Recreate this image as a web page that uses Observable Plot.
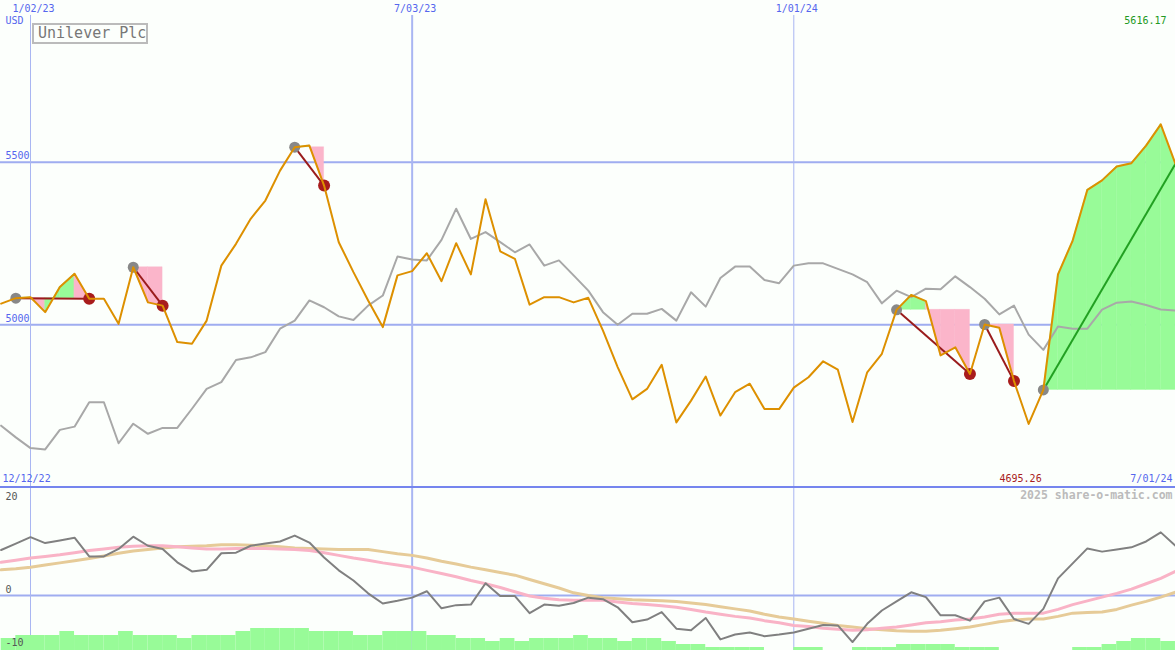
<!DOCTYPE html>
<html><head><meta charset="utf-8">
<script src="https://cdn.jsdelivr.net/npm/d3@7"></script>
<script src="https://cdn.jsdelivr.net/npm/@observablehq/plot@0.6"></script>
<style>
body{margin:0;background:#fcfffc;}
#wrap{position:relative;width:1175px;height:650px;overflow:hidden;background:#fcfffc;font-family:"DejaVu Sans Mono",monospace;}
#sep{height:2px;background:#7585ee;}
#title{position:absolute;left:32px;top:23px;width:108px;height:17px;border:2px solid #bbbbbb;color:#777777;font:15px "DejaVu Sans Mono",monospace;line-height:17px;padding-left:4px;white-space:nowrap;}
#bars{position:absolute;left:0;top:628px;}
#labels{position:absolute;left:0;top:488px;}
svg{display:block}
</style></head><body>
<div id="wrap"><div id="main"></div><div id="sep"></div><div id="lower"></div><div id="bars"></div><div id="labels"></div><div id="title">Unilever Plc</div></div>
<script>
// ---- data (weekly, Mondays 2022-12-19 .. 2024-07-01) ----
const firstWeek = "2022-12-19", lastWeek = "2024-07-01";
const price = [5065,5082,5085,5039,5116,5157,5080,5080,5003,5177,
 5069,5059,4947,4942,5013,5182,5249,5326,5382,5474,
 5546,5551,5428,5254,5162,5075,4993,5152,5165,5220,
 5134,5251,5155,5386,5226,5203,5062,5085,5085,5069,
 5083,4982,4870,4771,4803,4877,4700,4767,4841,4721,
 4793,4819,4741,4741,4807,4839,4888,4862,4701,4854,
 4911,5046,5092,5073,4906,4931,4849,5001,4991,4827,
 4695.26,4800,5155,5259,5415,5444,5487,5497,5551,5616.17,
 5495];
const compare = [4690,4654,4621,4617,4677,4687,4762,4762,4636,4696,
 4665,4683,4683,4742,4803,4824,4892,4900,4916,4988,
 5013,5075,5054,5026,5015,5059,5090,5210,5201,5198,
 5261,5357,5264,5285,5254,5223,5247,5182,5198,5152,
 5105,5039,5000,5034,5034,5049,5013,5100,5056,5144,
 5179,5179,5138,5128,5182,5189,5189,5172,5155,5131,
 5066,5105,5085,5111,5109,5149,5116,5080,5032,5059,
 4970,4923,4995,4988,4988,5047,5068,5072,5061,5047,
 5044];
const momentum = [8.5,9.7,10.9,9.8,10.3,10.8,7.3,7.3,8.7,11.0,
 9.3,8.7,6.2,4.5,4.8,7.9,8.0,9.3,9.7,10.1,
 11.2,9.9,7.1,4.7,2.8,0.4,-1.5,-1.0,-0.4,0.8,
 -2.4,-1.8,-1.7,2.3,-0.1,-0.1,-3.3,-1.7,-1.9,-1.4,
 -0.4,-0.7,-2.2,-5.0,-4.5,-3.1,-6.2,-6.5,-4.2,-8.2,
 -7.3,-6.9,-7.6,-7.3,-6.9,-6.2,-5.5,-5.6,-8.7,-5.3,
 -2.8,-1.1,0.6,-0.3,-3.7,-3.7,-4.7,-1.1,-0.4,-4.4,
 -5.3,-2.5,3.2,6.0,8.8,8.2,8.6,9.0,10.1,11.8,
 9.3];
const avgFast = [6.2,6.6,7.0,7.3,7.6,8.0,8.4,8.7,9.0,9.2,
 9.3,9.3,9.1,8.9,8.7,8.7,8.8,8.8,8.8,8.7,
 8.6,8.4,8.0,7.5,7.0,6.6,6.1,5.7,5.3,4.7,
 4.1,3.5,2.8,2.2,1.5,0.7,-0.1,-0.5,-0.8,-0.9,
 -0.9,-0.9,-1.2,-1.5,-1.7,-1.9,-2.2,-2.6,-3.1,-3.5,
 -3.9,-4.2,-4.7,-5.1,-5.6,-5.8,-6.1,-6.3,-6.5,-6.4,
 -6.1,-5.9,-5.5,-5.1,-4.9,-4.6,-4.4,-4.0,-3.5,-3.3,
 -3.3,-3.3,-2.6,-1.7,-1.0,-0.3,0.4,1.2,2.2,3.2,
 4.5];
const avgSlow = [4.8,5.0,5.3,5.7,6.1,6.5,6.9,7.4,7.9,8.3,
 8.6,8.9,9.1,9.2,9.3,9.5,9.5,9.4,9.3,9.1,
 8.9,8.8,8.7,8.6,8.6,8.6,8.2,7.8,7.5,7.0,
 6.4,5.9,5.3,4.8,4.3,3.8,3.0,2.2,1.4,0.5,
 0.0,-0.4,-0.6,-0.8,-0.9,-1.0,-1.1,-1.4,-1.7,-2.1,
 -2.5,-2.9,-3.5,-4.0,-4.4,-4.8,-5.2,-5.6,-5.9,-6.2,
 -6.4,-6.6,-6.7,-6.7,-6.5,-6.2,-5.9,-5.4,-4.9,-4.6,
 -4.4,-4.4,-3.9,-3.3,-3.2,-3.1,-2.6,-1.8,-1.1,-0.3,
 0.6];
const volume = [12,15,15,15,19,15,15,15,19,15,
 15,15,12,15,15,15,19,22,22,22,
 22,19,19,19,15,15,19,19,19,15,
 15,12,12,9,12,9,12,12,12,15,
 12,12,9,12,12,9,6,6,3,3,
 3,3,0,0,3,3,0,0,3,3,
 3,6,6,6,6,3,3,3,0,0,
 0,0,0,3,3,6,9,12,12,9,
 9];
// trades: week index of entry and exit (null = still open)
const trades = [{entry:1,exit:6},{entry:9,exit:11},{entry:20,exit:22},{entry:61,exit:66},{entry:67,exit:69},{entry:71,exit:null}];
const dateTicks = ["2023-01-02","2023-07-03","2024-01-01"];
const dateLabels = ["1/02/23","7/03/23","1/01/24"];
const priceTicks = [5500,5000];
const lowerTicks = [20,0,-10];

// ---- build ----
const weeks = d3.utcMonday.range(new Date(firstWeek), d3.utcDay.offset(new Date(lastWeek),1));
const rows = weeks.map((d,i)=>({d, price:price[i], compare:compare[i], momentum:momentum[i], avgFast:avgFast[i], avgSlow:avgSlow[i], volume:volume[i]}));
const tickDates = dateTicks.map(s=>new Date(s));
const last = price.length-1;
const xDomain = [new Date(Date.UTC(2022,11,18,16,34)), new Date(Date.UTC(2024,6,1,0,30))];
const lowerDomain = [-10.28,20];
const GREEN="#98fb98", PINK="#fbb5ca", BLUE="#5566ee", GRID="#9fadf0", VGRID="#a9b6f2";
const font = "DejaVu Sans Mono, monospace";

const fillRows=[];
trades.forEach((t,ti)=>{
  const end = t.exit ?? last, base = price[t.entry];
  for(let k=t.entry;k<end;k++){
    const col = price[k+1] >= base ? GREEN : PINK;
    fillRows.push({d:weeks[k],y1:base,y2:price[k],seg:ti+"-"+k,col});
    fillRows.push({d:weeks[k+1],y1:base,y2:price[k+1],seg:ti+"-"+k,col});
  }
});
const minI = d3.minIndex(price);

const main = Plot.plot({
  width:1175,height:486,margin:0,
  x:{type:"utc",domain:xDomain,axis:null},
  y:{domain:[4503,5997],axis:null},
  color:{type:"identity"},
  style:{background:"#fcfffc",fontFamily:font,fontSize:"10px",overflow:"visible"},
  marks:[
    Plot.ruleY(priceTicks,{stroke:GRID,strokeWidth:2}),
    Plot.ruleX([tickDates[0],tickDates[2]],{y1:5951,y2:4503,stroke:VGRID,strokeWidth:1}),
    Plot.ruleX([tickDates[1]],{y1:5951,y2:4503,stroke:VGRID,strokeWidth:2}),
    Plot.areaY(fillRows,{x:"d",y1:"y1",y2:"y2",z:"seg",fill:"col",stroke:"col",strokeWidth:0.4}),
    Plot.line(rows,{x:"d",y:"compare",stroke:"#a8a8a8",strokeWidth:2}),
    Plot.link(trades,{x1:t=>weeks[t.entry],y1:t=>price[t.entry],x2:t=>weeks[t.exit??last],y2:t=>price[t.exit??last],
      stroke:t=>t.exit==null?"#22a022":"#9a1c1c",strokeWidth:2}),
    Plot.dot(trades,{x:t=>weeks[t.entry],y:t=>price[t.entry],r:5.5,fill:"#888888"}),
    Plot.dot(trades.filter(t=>t.exit!=null),{x:t=>weeks[t.exit],y:t=>price[t.exit],r:6,fill:"#a81c1c"}),
    Plot.line(rows,{x:"d",y:"price",stroke:"#dd9000",strokeWidth:2}),
    Plot.text(tickDates,{x:d=>d,text:(d,i)=>dateLabels[i],frameAnchor:"top",lineAnchor:"middle",dy:8,dx:3,fill:BLUE}),
    Plot.text(["USD"],{frameAnchor:"top-left",lineAnchor:"middle",dx:5,dy:20,textAnchor:"start",fill:BLUE}),
    Plot.text([d3.max(price)],{frameAnchor:"top-right",lineAnchor:"middle",dx:-9,dy:20,textAnchor:"end",text:d=>d.toFixed(2),fill:"#229922"}),
    Plot.text(priceTicks,{y:d=>d,frameAnchor:"left",dx:5,dy:-6,textAnchor:"start",text:d=>String(d),fill:BLUE}),
    Plot.text(["12/12/22"],{frameAnchor:"bottom-left",lineAnchor:"middle",dx:2,dy:-8,textAnchor:"start",fill:BLUE}),
    Plot.text(["7/01/24"],{frameAnchor:"bottom-right",lineAnchor:"middle",dx:-3,dy:-8,textAnchor:"end",fill:BLUE}),
    Plot.text([price[minI]],{x:()=>weeks[minI],frameAnchor:"bottom",lineAnchor:"middle",dx:13,dy:-8,textAnchor:"end",text:d=>d.toFixed(2),fill:"#a82020"})
  ]
});
document.getElementById("main").append(main);

const lower = Plot.plot({
  width:1175,height:162,margin:0,
  x:{type:"utc",domain:xDomain,axis:null},
  y:{domain:lowerDomain,axis:null},
  style:{background:"#fcfffc",fontFamily:font,fontSize:"10px",overflow:"visible"},
  marks:[
    Plot.ruleY([0],{stroke:GRID,strokeWidth:2}),
    Plot.ruleX([tickDates[0],tickDates[2]],{stroke:VGRID,strokeWidth:1}),
    Plot.ruleX([tickDates[1]],{stroke:VGRID,strokeWidth:2}),
    Plot.line(rows,{x:"d",y:"avgSlow",stroke:"#e6cb98",strokeWidth:3}),
    Plot.line(rows,{x:"d",y:"avgFast",stroke:"#f9b3c6",strokeWidth:3}),
    Plot.line(rows,{x:"d",y:"momentum",stroke:"#808080",strokeWidth:2})
  ]
});
document.getElementById("lower").append(lower);

const bars = Plot.plot({
  width:1175,height:22,margin:0,
  x:{type:"utc",domain:xDomain,axis:null},
  y:{domain:[0,22],axis:null},
  style:{background:"transparent",overflow:"hidden"},
  marks:[
    Plot.rectY(rows,{x1:"d",x2:r=>d3.utcDay.offset(r.d,7),y:"volume",fill:GREEN})
  ]
});
document.getElementById("bars").append(bars);

const labels = Plot.plot({
  width:1175,height:162,margin:0,
  x:{type:"utc",domain:xDomain,axis:null},
  y:{domain:lowerDomain,axis:null},
  style:{background:"transparent",fontFamily:font,fontSize:"10px",overflow:"visible"},
  marks:[
    Plot.text([lowerTicks[0]],{y:d=>d,frameAnchor:"left",dx:5,dy:8,textAnchor:"start",text:d=>String(d),fill:"#555555"}),
    Plot.text(lowerTicks.slice(1),{y:d=>d,frameAnchor:"left",dx:5,dy:-6,textAnchor:"start",text:d=>String(d),fill:"#555555"}),
    Plot.text(["2025 share-o-matic.com"],{frameAnchor:"top-right",lineAnchor:"middle",dx:-3,dy:7,textAnchor:"end",fill:"#bbbbbb",fontWeight:"bold",fontSize:11.5})
  ]
});
document.getElementById("labels").append(labels);
</script>
</body></html>
